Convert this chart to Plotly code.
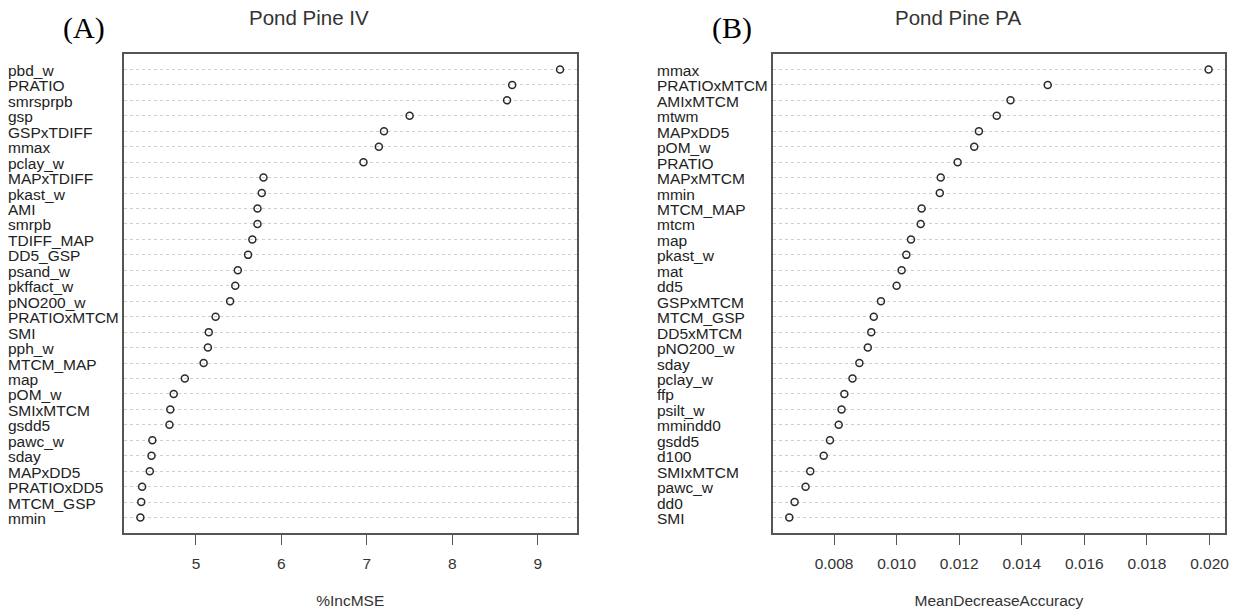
import plotly.graph_objects as go

# ---------------- data ----------------
iv_labels = ["pbd_w", "PRATIO", "smrsprpb", "gsp", "GSPxTDIFF", "mmax", "pclay_w",
             "MAPxTDIFF", "pkast_w", "AMI", "smrpb", "TDIFF_MAP", "DD5_GSP", "psand_w",
             "pkffact_w", "pNO200_w", "PRATIOxMTCM", "SMI", "pph_w", "MTCM_MAP", "map",
             "pOM_w", "SMIxMTCM", "gsdd5", "pawc_w", "sday", "MAPxDD5", "PRATIOxDD5",
             "MTCM_GSP", "mmin"]
iv_values = [9.26, 8.70, 8.64, 7.50, 7.20, 7.14, 6.96,
             5.79, 5.77, 5.72, 5.72, 5.66, 5.61, 5.49,
             5.46, 5.40, 5.23, 5.15, 5.14, 5.09, 4.87,
             4.74, 4.70, 4.69, 4.49, 4.48, 4.46, 4.37,
             4.36, 4.35]

pa_labels = ["mmax", "PRATIOxMTCM", "AMIxMTCM", "mtwm", "MAPxDD5", "pOM_w", "PRATIO",
             "MAPxMTCM", "mmin", "MTCM_MAP", "mtcm", "map", "pkast_w", "mat", "dd5",
             "GSPxMTCM", "MTCM_GSP", "DD5xMTCM", "pNO200_w", "sday", "pclay_w", "ffp",
             "psilt_w", "mmindd0", "gsdd5", "d100", "SMIxMTCM", "pawc_w", "dd0", "SMI"]
pa_values = [0.01997, 0.01483, 0.01364, 0.01320, 0.01263, 0.01248, 0.01195,
             0.01141, 0.01138, 0.01080, 0.01077, 0.01046, 0.01031, 0.01016, 0.01000,
             0.00950, 0.00927, 0.00919, 0.00908, 0.00881, 0.00859, 0.00833,
             0.00824, 0.00815, 0.00787, 0.00767, 0.00724, 0.00709, 0.00674, 0.00657]

iv_ticks = [5, 6, 7, 8, 9]
pa_ticks = [0.008, 0.010, 0.012, 0.014, 0.016, 0.018, 0.020]

titles = ["Pond Pine IV", "Pond Pine PA"]
panel_tags = ["(A)", "(B)"]
xtitles = ["%IncMSE", "MeanDecreaseAccuracy"]

# ---------------- figure ----------------
W, H = 1244, 614
SANS = "Liberation Sans, Arial, sans-serif"
SERIF = "Liberation Serif, Times New Roman, serif"

fig = go.Figure()

n_iv = len(iv_labels)
n_pa = len(pa_labels)
iv_y = [n_iv - i for i in range(n_iv)]
pa_y = [n_pa - i for i in range(n_pa)]

marker = dict(symbol="circle-open", size=7, color="#2b2b2b", line=dict(width=1.5, color="#2b2b2b"))

fig.add_trace(go.Scatter(x=iv_values, y=iv_y, mode="markers", marker=marker,
                         xaxis="x", yaxis="y", showlegend=False, hoverinfo="skip"))
fig.add_trace(go.Scatter(x=pa_values, y=pa_y, mode="markers", marker=marker,
                         xaxis="x2", yaxis="y2", showlegend=False, hoverinfo="skip"))

def xrng(vals):
    lo, hi = min(vals), max(vals)
    d = (hi - lo) * 0.04
    return [lo - d, hi + d]

ydom = [1 - 533 / H, 1 - 54 / H]
xdomA = [124 / W, 578.7 / W]
xdomB = [775 / W, 1229.3 / W]

common_x = dict(showline=True, linecolor="#555555", linewidth=1.5, mirror=True,
                ticks="outside", ticklen=10, tickwidth=1, tickcolor="#555555",
                showgrid=False, zeroline=False, ticklabelstandoff=6,
                tickfont=dict(family=SANS, size=15.5, color="#333333"),
                title=dict(font=dict(family=SANS, size=15.5, color="#333333"), standoff=24))
common_y = dict(showline=True, linecolor="#555555", linewidth=1.5, mirror=True,
                showticklabels=False, ticks="", zeroline=False,
                showgrid=True, gridcolor="#cfcfcf", gridwidth=1, griddash="dot",
                dtick=1, tick0=1)

fig.update_layout(
    width=W, height=H,
    margin=dict(l=0, r=0, t=0, b=0),
    paper_bgcolor="white", plot_bgcolor="white",
    hovermode=False,
    xaxis=dict(domain=xdomA, range=xrng(iv_values), tickvals=iv_ticks,
               title_text=xtitles[0], anchor="y", **common_x),
    yaxis=dict(domain=ydom, range=[0, n_iv + 1], anchor="x", **common_y),
    xaxis2=dict(domain=xdomB, range=xrng(pa_values), tickvals=pa_ticks, tickformat=".3f",
                title_text=xtitles[1], anchor="y2", **common_x),
    yaxis2=dict(domain=ydom, range=[0, n_pa + 1], anchor="x2", **common_y),
)

# variable labels (left aligned, as in R dotchart)
for lab, yy in zip(iv_labels, iv_y):
    fig.add_annotation(text=lab, x=6 / W, xref="paper", y=yy, yref="y",
                       xanchor="left", yanchor="middle", showarrow=False, yshift=-1,
                       font=dict(family=SANS, size=15.5, color="#222222"))
for lab, yy in zip(pa_labels, pa_y):
    fig.add_annotation(text=lab, x=657 / W, xref="paper", y=yy, yref="y2",
                       xanchor="left", yanchor="middle", showarrow=False, yshift=-1,
                       font=dict(family=SANS, size=15.5, color="#222222"))

# panel titles
fig.add_annotation(text=titles[0], x=310 / W, y=1 - 17 / H, xref="paper", yref="paper",
                   xanchor="center", yanchor="middle", showarrow=False,
                   font=dict(family=SANS, size=20.5, color="#333333"))
fig.add_annotation(text=titles[1], x=961 / W, y=1 - 17 / H, xref="paper", yref="paper",
                   xanchor="center", yanchor="middle", showarrow=False,
                   font=dict(family=SANS, size=20.5, color="#333333"))

# panel tags
fig.add_annotation(text=panel_tags[0], x=84 / W, y=1 - 28 / H, xref="paper", yref="paper",
                   xanchor="center", yanchor="middle", showarrow=False,
                   font=dict(family=SERIF, size=30, color="#000000"))
fig.add_annotation(text=panel_tags[1], x=734 / W, y=1 - 28 / H, xref="paper", yref="paper",
                   xanchor="center", yanchor="middle", showarrow=False,
                   font=dict(family=SERIF, size=30, color="#000000"))

fig.write_html("out.html", config={"displayModeBar": False},
               post_script="document.body.style.margin='0';document.body.style.overflow='hidden';")
